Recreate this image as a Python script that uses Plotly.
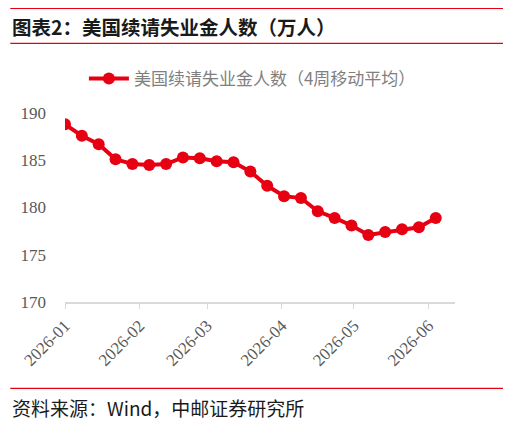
import pandas as pd
import plotly.graph_objects as go

# Weekly continuing claims, 4-week moving average (10k persons)
dates = pd.date_range('2026-01-01', periods=23, freq='7D')
claims = [
    188.8, 187.6, 186.7, 185.1, 184.6, 184.5, 184.6, 185.3, 185.2, 184.9, 184.8, 183.8,
    182.3, 181.2, 181.0, 179.6, 178.9, 178.1, 177.1, 177.4, 177.7, 177.9, 178.9,
]
month_ticks = pd.date_range('2026-01-01', '2026-06-01', freq='MS')

RED = '#e60012'
GRID = '#d9d9d9'
TICK_FONT = dict(family='Liberation Serif, Times New Roman, serif', size=17, color='#595959')
CJK = 'Noto Sans CJK SC, sans-serif'

# the page body adds an 8px margin, so the figure is drawn 8px smaller
# and every target pixel position is shifted by that offset
OFF = 8
W, H = 511 - OFF, 423 - OFF
L, R, T, B = 63 - OFF, 455 - OFF, 113 - OFF, 302 - OFF


def px_x(px):
    return (px - OFF - L) / (R - L)


def px_y(py):
    return (B - (py - OFF)) / (B - T)


fig = go.Figure()
fig.add_trace(
    go.Scatter(
        x=dates,
        y=claims,
        mode='lines+markers',
        name='美国续请失业金人数（4周移动平均）',
        line=dict(color=RED, width=4),
        marker=dict(color=RED, size=12),
    )
)

# red rules and texts around the chart
for py in (8.5, 43.3, 388.3):
    fig.add_shape(
        type='line', xref='paper', yref='paper',
        x0=px_x(8), x1=px_x(505), y0=px_y(py), y1=px_y(py),
        line=dict(color=RED, width=1.2),
    )

fig.add_annotation(
    text='<b>图表2：美国续请失业金人数（万人）</b>',
    xref='paper', yref='paper', x=px_x(8), y=px_y(26),
    xanchor='left', yanchor='middle', showarrow=False,
    font=dict(family=CJK, size=19.5, color='#1a1a1a'),
)
fig.add_annotation(
    text='资料来源：Wind，中邮证券研究所',
    xref='paper', yref='paper', x=px_x(8), y=px_y(407),
    xanchor='left', yanchor='middle', showarrow=False,
    font=dict(family=CJK, size=19, color='#1a1a1a'),
)

fig.update_layout(
    width=W,
    height=H,
    margin=dict(l=L, r=W - R, t=T, b=H - B, pad=0),
    paper_bgcolor='white',
    plot_bgcolor='white',
    showlegend=True,
    legend=dict(
        orientation='h',
        x=px_x(82), y=px_y(79),
        xanchor='left', yanchor='middle',
        font=dict(family=CJK, size=17, color='#7f7f7f'),
        itemwidth=40,
    ),
    xaxis=dict(
        range=['2026-01-01', '2026-06-12'],
        tickvals=month_ticks,
        ticktext=[d.strftime('%Y-%m') for d in month_ticks],
        tickangle=-45,
        tickfont=TICK_FONT,
        showgrid=False,
        zeroline=False,
        showline=True,
        linecolor=GRID,
        linewidth=2,
        ticks='outside',
        ticklen=5,
        tickcolor=GRID,
        tickwidth=1,
    ),
    yaxis=dict(
        range=[170, 190],
        tickvals=[170, 175, 180, 185, 190],
        tickfont=TICK_FONT,
        showgrid=False,
        zeroline=False,
        showline=False,
        ticks='',
        ticklabelstandoff=18,
    ),
)

fig.write_html('out.html')
